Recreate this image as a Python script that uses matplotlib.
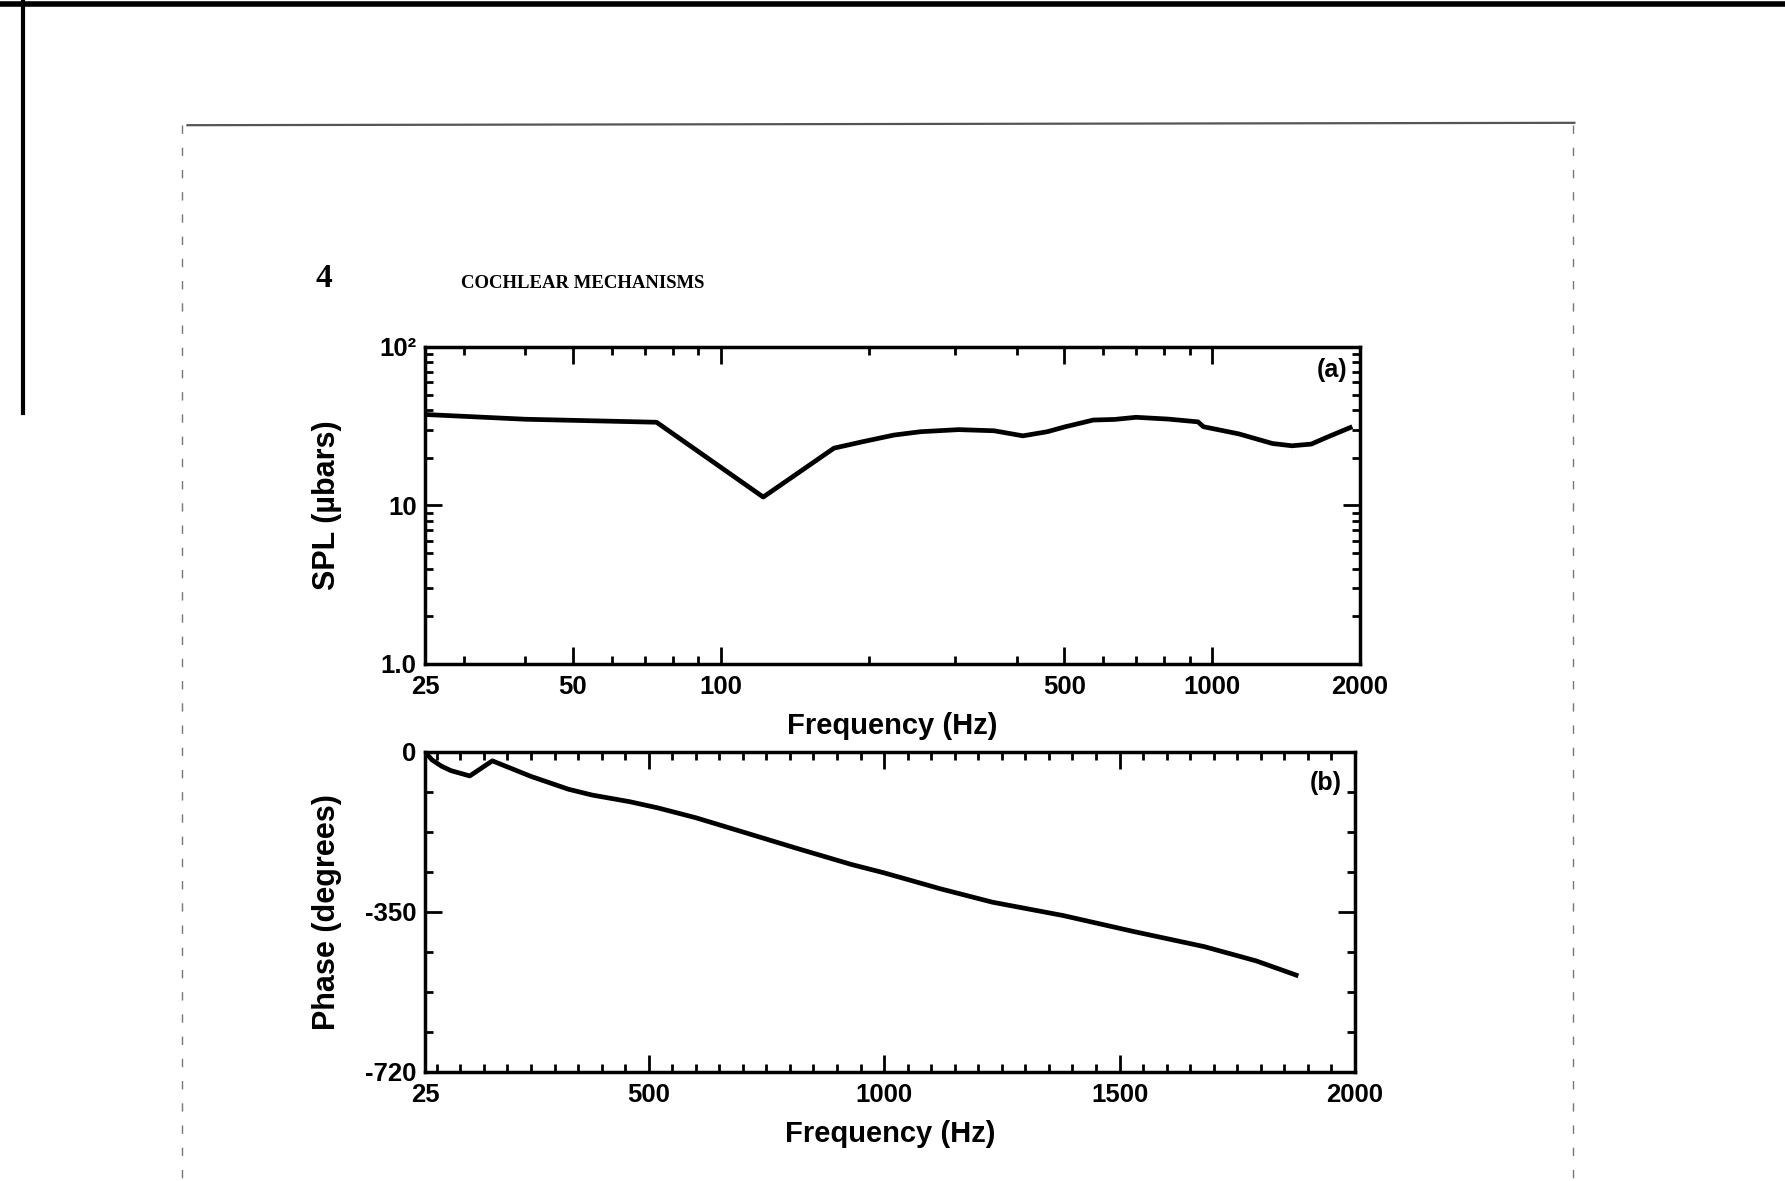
import numpy as np
import matplotlib.pyplot as plt
from matplotlib.ticker import FixedLocator, NullFormatter
from matplotlib.lines import Line2D

plt.rcParams['font.family'] = ['Liberation Sans', 'DejaVu Sans']
plt.rcParams['font.weight'] = 'bold'

# (a) sound pressure level vs frequency (log-log)
spl_freq = [25, 40, 74, 122, 170, 195, 225, 255, 305, 360, 412, 462, 503,
            573, 633, 700, 812, 936, 960, 1133, 1327, 1454, 1592, 1716, 1910]
spl_val = [37.5, 35.0, 33.5, 11.3, 23.0, 25.3, 27.8, 29.2, 30.1, 29.6, 27.5,
           29.2, 31.4, 34.6, 34.9, 36.0, 35.1, 33.7, 31.4, 28.3, 24.6, 23.8,
           24.4, 27.0, 31.0]

# (b) phase vs frequency (linear)
phase_freq = [25, 40, 60, 80, 120, 168, 250, 330, 380, 460, 520, 600, 700,
              815, 930, 1000, 1120, 1230, 1380, 1530, 1680, 1790, 1875]
phase_deg = [0, -18, -32, -42, -54, -20, -55, -84, -97, -112, -126, -148,
             -180, -217, -253, -272, -308, -338, -368, -404, -438, -470, -502]

top_major = [25, 50, 100, 500, 1000, 2000]
top_minor = [30, 40, 60, 70, 80, 90, 200, 300, 400, 600, 700, 800, 900]
spl_ticks = [1, 10, 100]
spl_labels = ['1.0', '10', '10\u00b2']
bot_major = [25, 500, 1000, 1500, 2000]
phase_ticks = [0, -360, -720]
phase_labels = ['0', '-350', '-720']

fig = plt.figure(figsize=(17.85, 11.81), dpi=100)
ax1 = fig.add_axes([0.2381, 0.4378, 0.5238, 0.2684])
ax2 = fig.add_axes([0.2381, 0.0923, 0.5210, 0.2710])

for ax in (ax1, ax2):
    for s in ax.spines.values():
        s.set_linewidth(2.5)
    ax.tick_params(which='both', direction='in', top=True, right=True,
                   width=2, labelsize=18.5)
    ax.tick_params(which='major', length=12)
    ax.tick_params(which='minor', length=6)
    ax.tick_params(axis='x', pad=8)
    ax.tick_params(axis='y', pad=6)

# panel (a)
ax1.plot(spl_freq, spl_val, color='black', lw=3.4)
ax1.set_xscale('log')
ax1.set_yscale('log')
ax1.set_xlim(25, 2000)
ax1.set_ylim(1, 100)
ax1.xaxis.set_major_locator(FixedLocator(top_major))
ax1.set_xticklabels([str(v) for v in top_major])
ax1.xaxis.set_minor_locator(FixedLocator(top_minor))
ax1.xaxis.set_minor_formatter(NullFormatter())
ax1.yaxis.set_major_locator(FixedLocator(spl_ticks))
ax1.set_yticklabels(spl_labels)
ax1.yaxis.set_minor_locator(FixedLocator([2, 3, 4, 5, 6, 7, 8, 9,
                                          20, 30, 40, 50, 60, 70, 80, 90]))
ax1.yaxis.set_minor_formatter(NullFormatter())
ax1.set_xlabel('Frequency (Hz)', fontsize=21, fontweight='bold')
ax1.set_ylabel('SPL (\u00b5bars)', fontsize=22, fontweight='bold')
ax1.xaxis.set_label_coords(0.5, -0.15)
ax1.yaxis.set_label_coords(-0.089, 0.5)
ax1.text(0.970, 0.927, '(a)', transform=ax1.transAxes, ha='center',
         va='center', fontsize=18, fontweight='bold')

# panel (b)
ax2.plot(phase_freq, phase_deg, color='black', lw=3.4)
ax2.set_xlim(25, 2000)
ax2.set_ylim(-720, 0)
ax2.xaxis.set_major_locator(FixedLocator(bot_major))
ax2.set_xticklabels([str(v) for v in bot_major])
ax2.xaxis.set_minor_locator(FixedLocator(np.arange(50, 2000, 50)))
ax2.yaxis.set_major_locator(FixedLocator(phase_ticks))
ax2.set_yticklabels(phase_labels)
ax2.yaxis.set_minor_locator(FixedLocator([-90, -180, -270, -450, -540, -630]))
ax2.set_xlabel('Frequency (Hz)', fontsize=21, fontweight='bold')
ax2.set_ylabel('Phase (degrees)', fontsize=22, fontweight='bold')
ax2.xaxis.set_label_coords(0.5, -0.15)
ax2.yaxis.set_label_coords(-0.089, 0.5)
ax2.text(0.969, 0.903, '(b)', transform=ax2.transAxes, ha='center',
         va='center', fontsize=18, fontweight='bold')

# page header
fig.text(324 / 1785, 1 - 279 / 1181, '4', ha='center', va='center',
         family='Liberation Serif', fontsize=24, fontweight='bold')
fig.text(461 / 1785, 1 - 283 / 1181, 'COCHLEAR MECHANISMS', ha='left',
         va='center', family='Liberation Serif', fontsize=13.5,
         fontweight='bold')

# scanned page edges
fig.add_artist(Line2D([0, 1], [0.997, 0.997], color='black', lw=4))
fig.add_artist(Line2D([0.013, 0.013], [1.0, 0.65], color='black', lw=3))
fig.add_artist(Line2D([0.105, 0.882], [0.894, 0.896], color='#555555', lw=1.6))
fig.add_artist(Line2D([0.102, 0.102], [0.894, 0.0], color='#777777', lw=1.0,
                      ls=(0, (6, 10))))
fig.add_artist(Line2D([0.881, 0.881], [0.894, 0.0], color='#777777', lw=1.0,
                      ls=(0, (6, 10))))

fig.savefig('out.png', dpi=100, facecolor='white')
